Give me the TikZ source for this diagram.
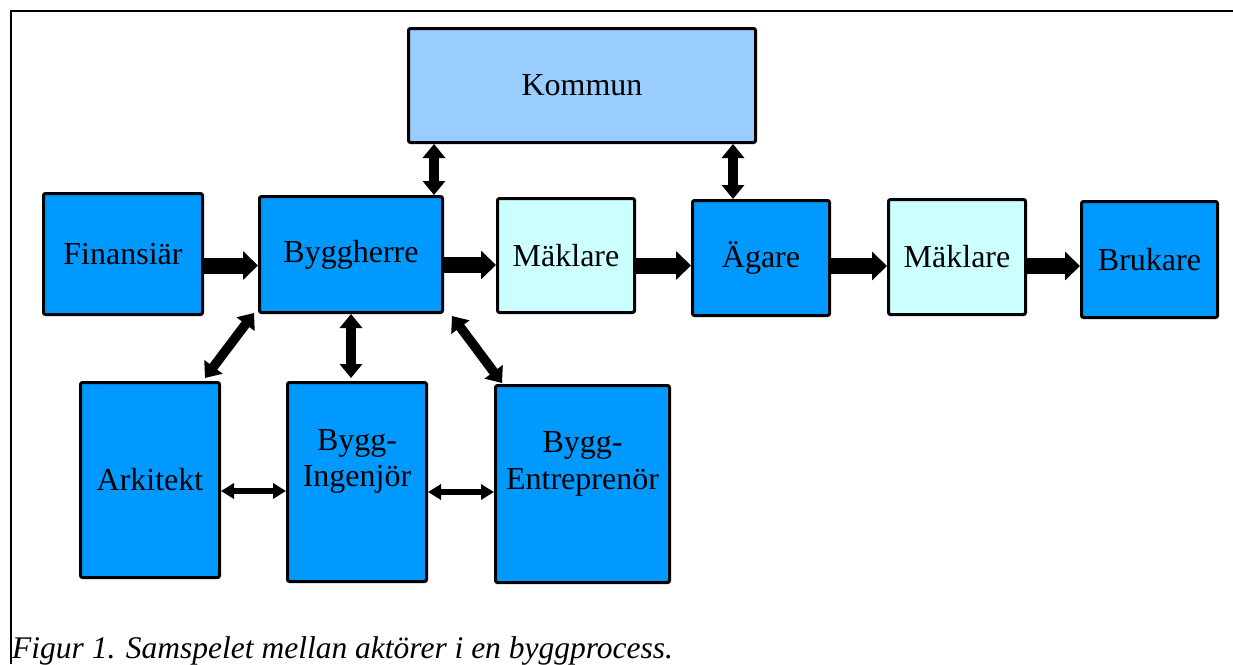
\documentclass[tikz,border=0pt]{standalone}
\usepackage{fontspec}
\setmainfont{Liberation Serif}
\usetikzlibrary{arrows.meta}
\definecolor{actorblue}{HTML}{0099FF}
\definecolor{kommunblue}{HTML}{99CCFF}
\definecolor{maklarcyan}{HTML}{CCFFFF}

\begin{document}
\begin{tikzpicture}[x=1pt, y=-1pt,
    main node/.style={rectangle, draw, line width=3pt, rounded corners=2pt, fill=actorblue, inner sep=0pt, font=\fontsize{32}{36}\selectfont, align=center},
    broker node/.style={main node, fill=maklarcyan},
    big arrow/.style={line width=16pt, -{Triangle[width=28pt,length=15pt]}},
    mid arrow/.style={line width=9.5pt, {Triangle[width=22pt,length=14pt]}-{Triangle[width=22pt,length=14pt]}},
    thin arrow/.style={line width=6pt, {Triangle[width=15pt,length=13pt]}-{Triangle[width=15pt,length=13pt]}}]
    \useasboundingbox (0,0) rectangle (1233,664);
    \draw[line width=1.5pt] (11,664) -- (11,11) -- (1233,11);

    \node[main node, fill=kommunblue, minimum width=347pt, minimum height=114pt] (K) at (582,85.5) {Kommun};
    \node[main node, minimum width=159pt, minimum height=121pt] (F) at (123,254) {Finansiär};
    \node[main node, minimum width=183pt, minimum height=116pt] (B) at (351,254.5) {\raisebox{-3pt}{Byggherre}};
    \node[broker node, minimum width=137pt, minimum height=114pt] (M1) at (566,255.5) {\raisebox{-2pt}{Mäklare}};
    \node[main node, minimum width=137pt, minimum height=115pt] (AG) at (761,258) {\raisebox{-2pt}{Ägare}};
    \node[broker node, minimum width=137pt, minimum height=115pt] (M2) at (957,257) {Mäklare};
    \node[main node, minimum width=136pt, minimum height=116pt] (BR) at (1149.5,259.5) {Brukare};
    \node[main node, minimum width=139pt, minimum height=195pt] (AR) at (150,480) {Arkitekt};
    \node[main node, minimum width=139pt, minimum height=199pt, label={[name=It, font=\fontsize{32}{36}\selectfont, align=center, yshift=21pt]center:Bygg-\\Ingenjör}] (I) at (357,482) {};
    \node[main node, minimum width=174pt, minimum height=197pt, label={[name=Et, font=\fontsize{32}{37}\selectfont, align=center, yshift=20pt]center:Bygg-\\Entreprenör}] (E) at (582.5,484) {};

    \draw[big arrow] ([yshift=-11.5pt]F.east) -- ([yshift=-11.5pt]F.east -| B.west);
    \draw[big arrow] ([yshift=-10.5pt]B.east) -- ([yshift=-10.5pt]B.east -| M1.west);
    \draw[big arrow] ([yshift=-7.5pt]AG.west -| M1.east) -- ([yshift=-7.5pt]AG.west);
    \draw[big arrow] ([yshift=-8pt]AG.east) -- ([yshift=-8pt]AG.east -| M2.west);
    \draw[big arrow] ([yshift=-9pt]M2.east) -- ([yshift=-9pt]M2.east -| BR.west);

    \draw[mid arrow] ([xshift=83pt]B.north |- K.south) -- ([xshift=83pt]B.north);
    \draw[mid arrow] ([xshift=-28pt]AG.north |- K.south) -- ([xshift=-28pt]AG.north);
    \draw[mid arrow, shorten >=3pt] (B.south) -- (B.south |- I.north);
    \draw[mid arrow] ([shift={(-4,-1)}]B.south west) -- ([shift={(-16,-3)}]AR.north east);
    \draw[mid arrow] ([shift={(8,2)}]B.south east) -- ([shift={(8,-1)}]E.north west);

    \draw[thin arrow] ([yshift=-11pt]AR.east) -- ([yshift=-11pt]AR.east -| I.west);
    \draw[thin arrow] ([yshift=-10pt]I.east) -- ([yshift=-10pt]I.east -| E.west);

    \node[anchor=base west, inner sep=0pt, font=\fontsize{31.5}{36}\selectfont\itshape] (cap) at (12,658) {Figur 1. Samspelet mellan aktörer i en byggprocess.};
\end{tikzpicture}
\end{document}
